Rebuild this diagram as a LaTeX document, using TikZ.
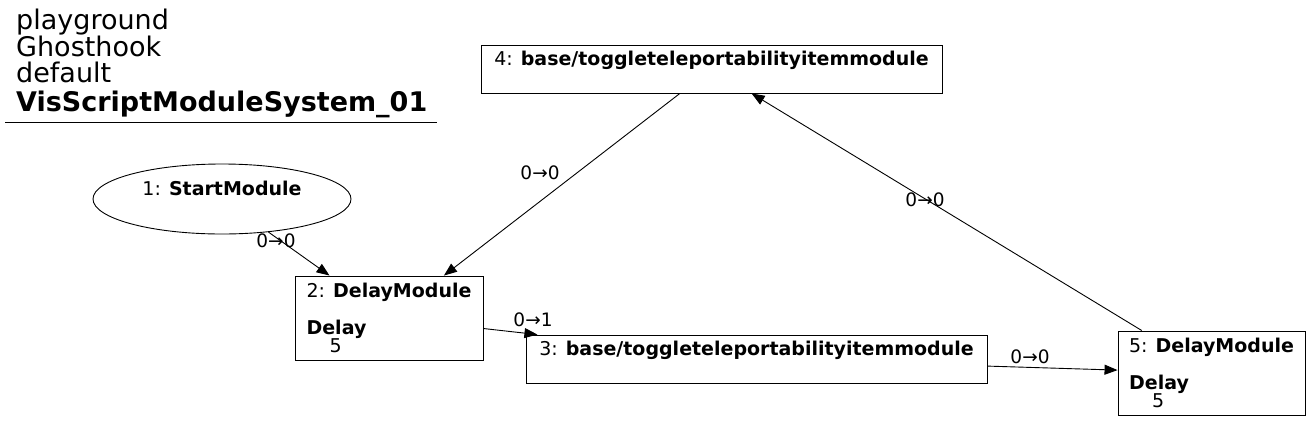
\documentclass[tikz,border=0pt]{standalone}
\usepackage{fontspec}
\setmainfont{DejaVu Sans}
\usetikzlibrary{arrows.meta}
\usetikzlibrary{shapes.geometric}

\tikzset{
  module/.style={draw, line width=0.9pt, rectangle, inner sep=0pt, font=\fontsize{19}{18.5}\selectfont},
  startmod/.style={draw, line width=0.9pt, ellipse, inner sep=0pt, align=center, font=\fontsize{19}{18.5}\selectfont},
  flow/.style={-{Triangle[length=13pt,width=10pt]}, line width=0.9pt},
  flowlabel/.style={inner sep=0pt, font=\fontsize{18.5}{18.5}\selectfont},
}

\begin{document}
\begin{tikzpicture}[x=1pt,y=-1pt]
                \useasboundingbox (0,0) rectangle (1311,421);

                % Title
                \node[anchor=north west, align=left, inner sep=0pt, font=\fontsize{27}{26}\selectfont] (title) at (16,9)
                  {playground\\Ghosthook\\default\\[3pt]\textbf{VisScriptModuleSystem\_01}};
                \draw[line width=0.9pt] (5,122) -- (437,122);

                % Modules
                \node[startmod, minimum width=258pt, minimum height=70pt] (start) at (222,199)
                  {1: \textbf{StartModule}\\[3pt]\mbox{}};
                \node[module, align=left, minimum width=188pt, minimum height=84pt] (delayA) at (389,318)
                  {2: \textbf{DelayModule}\\\mbox{}\\\textbf{Delay}\\[-1pt]\hspace{23pt}5};
                \node[module, align=center, minimum width=461pt, minimum height=48pt] (toggleA) at (756.5,359)
                  {3: \textbf{base/toggleteleportabilityitemmodule}\\[3pt]\mbox{}};
                \node[module, align=center, minimum width=461pt, minimum height=48pt] (toggleB) at (711.5,69)
                  {4: \textbf{base/toggleteleportabilityitemmodule}\\[3pt]\mbox{}};
                \node[module, align=left, minimum width=187pt, minimum height=84pt] (delayB) at (1211.5,373)
                  {5: \textbf{DelayModule}\\\mbox{}\\\textbf{Delay}\\[-1pt]\hspace{23pt}5};

                % Connections
                \draw[flow] (start) -- (delayA);
                \draw[flow] (toggleB) -- (delayA);
                \draw[flow] (delayA) -- (toggleA);
                \draw[flow] (toggleA) -- (delayB);
                \draw[flow] (delayB) -- (toggleB);

                % Port labels
                \node[flowlabel] (lblA) at (276,241) {0→0};
                \node[flowlabel] (lblB) at (540,173) {0→0};
                \node[flowlabel] (lblC) at (533,320) {0→1};
                \node[flowlabel] (lblD) at (1030,357) {0→0};
                \node[flowlabel] (lblE) at (925,200) {0→0};
            \end{tikzpicture}
\end{document}
